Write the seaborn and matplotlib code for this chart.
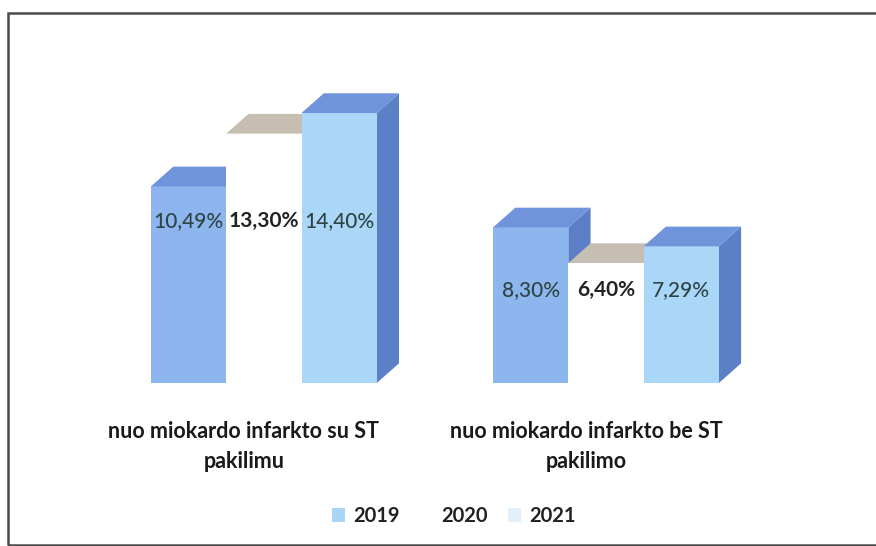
import matplotlib
matplotlib.use("Agg")
import matplotlib.pyplot as plt
import matplotlib.transforms as mtransforms
from matplotlib.patches import Patch, Polygon, Rectangle
import pandas as pd
import seaborn as sns

CATEGORIES = ["nuo miokardo infarkto su ST\npakilimu", "nuo miokardo infarkto be ST\npakilimo"]
YEARS = ["2019", "2020", "2021"]
VALUES_2019 = [10.49, 8.30]
VALUES_2020 = [13.30, 6.40]
VALUES_2021 = [14.40, 7.29]

# front / top / side colours per year
FRONT = {"2019": "#8db5ee", "2020": "#ffffff", "2021": "#aad7f8"}
TOP = {"2019": "#6f94dc", "2020": "#c7beb3", "2021": "#6f94dc"}
SIDE = {"2019": "#5b7ec6", "2020": "#c7beb3", "2021": "#5b80c6"}
LEGEND_COLORS = {"2019": "#a9d5f7", "2020": "#ffffff", "2021": "#e2f0fb"}
LABEL_COLORS = {"2019": "#2e4444", "2020": "#222222", "2021": "#2e4444"}


def build_df():
    rows = []
    for year, vals in zip(YEARS, [VALUES_2019, VALUES_2020, VALUES_2021]):
        for cat, v in zip(CATEGORIES, vals):
            rows.append({"category": cat, "year": year, "value": v})
    return pd.DataFrame(rows)


def main():
    sns.set_style("white")
    plt.rcParams["font.family"] = ["Lato", "DejaVu Sans"]

    df = build_df()
    fig = plt.figure(figsize=(8.76, 5.46), dpi=100)
    ax = fig.add_axes([0.106, 0.2985, 0.781, 0.5495])

    sns.barplot(
        df, x="category", y="value", hue="year", hue_order=YEARS,
        palette=FRONT, width=0.66, linewidth=0, saturation=1, legend=False,
        ax=ax, zorder=2,
    )
    ax.set_xlim(-0.5, 1.5)
    ax.set_ylim(0, 16)

    # fake 3D depth: top and side faces from each bar patch
    dx, dy = 0.065, 1.05
    bars = [p for p in ax.patches if isinstance(p, Rectangle)]
    for i, p in enumerate(bars):
        year = YEARS[i // len(CATEGORIES)]
        cat_idx = i % len(CATEGORIES)
        x0, w, h = p.get_x(), p.get_width(), p.get_height()
        z = 2 + YEARS.index(year) * 2
        p.set_zorder(z + 1)
        side = Polygon([(x0 + w, 0), (x0 + w + dx, dy), (x0 + w + dx, h + dy), (x0 + w, h)],
                       closed=True, facecolor=SIDE[year], edgecolor="none", zorder=z)
        top = Polygon([(x0, h), (x0 + w, h), (x0 + w + dx, h + dy), (x0 + dx, h + dy)],
                      closed=True, facecolor=TOP[year], edgecolor="none", zorder=z + 1)
        ax.add_patch(side)
        ax.add_patch(top)

        group_max = max(VALUES_2019[cat_idx], VALUES_2020[cat_idx], VALUES_2021[cat_idx])
        label = f"{h:.2f}".replace(".", ",") + "%"
        ax.text(x0 + w / 2, group_max * 0.6, label, ha="center", va="center",
                fontsize=15, color=LABEL_COLORS[year],
                fontweight="bold" if year == "2020" else "medium", zorder=20)

    ax.set_xticks([])
    ax.set_yticks([])
    ax.set_xlabel("")
    ax.set_ylabel("")
    sns.despine(ax=ax, left=True, bottom=True)

    # category labels below the floor
    offset = mtransforms.ScaledTranslation(-0.2, -0.38, fig.dpi_scale_trans)
    for i, cat in enumerate(CATEGORIES):
        ax.text(i, 0, cat, ha="center", va="top", fontsize=15.5, fontweight="bold",
                color="#1a1a1a", linespacing=1.55,
                transform=ax.transData + offset)

    handles = [Patch(facecolor=LEGEND_COLORS[y], edgecolor="none", label=y) for y in YEARS]
    leg = fig.legend(handles=handles, loc="center", bbox_to_anchor=(0.518, 0.055),
                     ncol=3, frameon=False, handlelength=0.65, handleheight=0.65,
                     handletextpad=0.4, columnspacing=1.0,
                     prop={"size": 14.5, "weight": "bold"})
    for t in leg.get_texts():
        t.set_color("#222222")

    # outer frame (scanned chart border)
    fig.add_artist(Rectangle((0.009, 0.002), 1.0, 0.974, transform=fig.transFigure,
                             fill=False, edgecolor="#4a4a4a", linewidth=1.8))

    fig.savefig("out.png", dpi=100)


if __name__ == "__main__":
    main()
